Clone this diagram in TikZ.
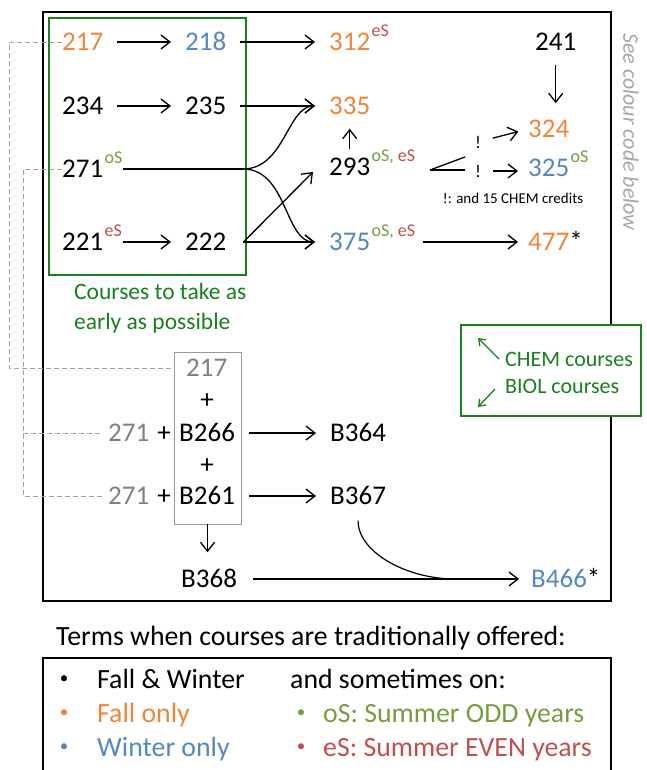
\documentclass[tikz,border=0pt]{standalone}
\usepackage{fontspec}
\setmainfont{Carlito}
\usetikzlibrary{arrows.meta}
\definecolor{corange}{RGB}{237,133,58}
\definecolor{cblue}{RGB}{84,135,195}
\definecolor{cgreen}{RGB}{118,156,64}
\definecolor{cred}{RGB}{192,80,77}
\definecolor{boxgreen}{RGB}{26,127,31}
\tikzset{
    crs/.style={anchor=west, inner sep=0pt, text height=17pt, text depth=0pt, font=\fontsize{27}{27}\selectfont},
    crsup/.style={anchor=base west, inner sep=0pt, font=\fontsize{18}{18}\selectfont},
    arr/.style={-{Straight Barb[length=9pt,width=14pt]}, line width=1.3pt, shorten <=14pt, shorten >=14pt},
    dashline/.style={gray!70, dash pattern=on 5pt off 3pt, line width=0.9pt},
    leg/.style={anchor=west, inner sep=0pt, text height=17pt, text depth=0pt, font=\fontsize{27.8}{27.8}\selectfont},
    dot/.style={inner sep=0pt, font=\fontsize{17}{17}\selectfont},
}
\begin{document}
\begin{tikzpicture}[x=1pt,y=-1pt]
    \useasboundingbox (0,0) rectangle (646,770);
    \clip (0,0) rectangle (646,770);
    %% boxes
    \draw[line width=1.3pt] (43,12) rectangle (611,601);
    \draw[boxgreen, line width=2.6pt] (49,18) rectangle (246,275);
    \draw[boxgreen, line width=2.6pt, fill=white] (461,325) rectangle (641,416);
    %% first year courses
    \node[crs, text=corange] (n217) at (62,42) {217};
    \node[crs, text=cblue] (n218) at (185,42) {218};
    \node[crs] (n234) at (62,106) {234};
    \node[crs] (n235) at (185,106) {235};
    \node[crs] (n271) at (62,169) {271};
    \node[crsup, text=cgreen] (s271) at ([xshift=1pt,yshift=-3pt]n271.north east) {oS};
    \node[crs] (n221) at (62,242) {221};
    \node[crsup, text=cred] (s221) at ([xshift=1pt,yshift=-3pt]n221.north east) {eS};
    \node[crs] (n222) at (185,242) {222};
    \node[anchor=west, align=left, inner sep=0pt, text=boxgreen, font=\fontsize{23.5}{30}\selectfont] (early) at (74,308) {Courses to take as\\early as possible};
    %% upper courses
    \node[crs, text=corange] (n312) at (329,42) {312};
    \node[crsup, text=cred] (s312) at ([xshift=1pt,yshift=-3pt]n312.north east) {eS};
    \node[crs, text=corange] (n335) at (329,106) {335};
    \node[crs] (n293) at (329,167) {293};
    \node[crsup] (s293) at ([xshift=1pt,yshift=-3pt]n293.north east) {\textcolor{cgreen}{oS,} \textcolor{cred}{eS}};
    \node[crs, text=cblue] (n375) at (329,242) {375};
    \node[crsup] (s375) at ([xshift=1pt,yshift=-3pt]n375.north east) {\textcolor{cgreen}{oS,} \textcolor{cred}{eS}};
    \node[crs] (n241) at (535,42) {241};
    \node[crs, text=corange] (n324) at (528,129) {324};
    \node[crs, text=cblue] (n325) at (528,168) {325};
    \node[crsup, text=cgreen] (s325) at ([xshift=1pt,yshift=-3pt]n325.north east) {oS};
    \node[crs, text=corange] (n477) at (528,242) {477\textcolor{black}{*}};
    \node[inner sep=0pt, font=\fontsize{18}{18}\selectfont] (bang1) at (478,142) {!};
    \node[inner sep=0pt, font=\fontsize{18}{18}\selectfont] (bang2) at (478,171) {!};
    \node[inner sep=0pt, font=\fontsize{15}{15}\selectfont] (note) at (513,198) {!: and 15 CHEM credits};
    \node[rotate=-90, inner sep=0pt, text=gray!70, font=\itshape\fontsize{22}{22}\selectfont] (seecode) at (631,132) {See colour code below};
    %% arrows, top part
    \coordinate (split) at (243,169);
    \coordinate (fork) at (430,170);
    \coordinate (from222) at ([xshift=17pt]n222.east);
    \draw[arr] (n217) -- (n218);
    \draw[arr] (n218) -- (n312);
    \draw[arr] (n234) -- (n235);
    \draw[arr] (n235) -- (n335);
    \draw[arr, shorten <=1pt] (s221.east |- n221.center) -- (n222);
    \draw[line width=1.3pt] (s271.east |- n271.center) -- (split);
    \draw[arr, shorten <=0pt] (split) to[out=0,in=180] (n335.west);
    \draw[arr, shorten <=0pt] (split) to[out=0,in=180] (n375.west);
    \draw[arr, shorten <=0pt] (from222) -- (n375.west);
    \draw[arr, shorten <=0pt, shorten >=0pt] (from222) -- ([xshift=-16pt,yshift=-5pt]n293.west);
    \draw[arr, shorten <=9pt] (n293.north) -- (n335.south);
    \draw[arr, shorten <=14pt, shorten >=17pt] (n241.south) -- (n241.south |- n324.north);
    \draw[line width=1.3pt] (fork) -- ++(35pt,13pt);
    \draw[line width=1.3pt] (fork) -- ++(35pt,0pt);
    \draw[arr, shorten <=12pt, shorten >=10pt] (bang1) -- (n324.west);
    \draw[arr, shorten <=12pt, shorten >=10pt] (bang2.east) -- (n325.west |- bang2.east);
    \draw[arr, shorten <=8pt, shorten >=10pt] (s375.east |- n375.center) -- (n477.west);
    %% BIOL courses
    \node[crs, text=gray] (g217) at (186,368) {217};
    \node[crs, anchor=center] (p1) at (207,400) {+};
    \node[crs] (b266) at (179,433) {B266};
    \node[crs, anchor=center] (p2) at (207,465) {+};
    \node[crs] (b261) at (179,496) {B261};
    \node[crs, text=gray] (h271a) at (108,433) {271};
    \node[crs, anchor=center] (p3) at (164,433) {+};
    \node[crs, text=gray] (h271b) at (108,496) {271};
    \node[crs, anchor=center] (p4) at (164,496) {+};
    \node[draw=gray!80, line width=0.9pt, minimum width=67pt, minimum height=172pt, inner sep=0pt] (bbox) at (207.5,438) {};
    \node[crs] (b364) at (330,433) {B364};
    \node[crs] (b367) at (330,496) {B367};
    \node[crs] (b368) at (181,579) {B368};
    \node[crs, text=cblue] (b466) at (531,579) {B466\textcolor{black}{*}};
    \coordinate (join) at (455,579);
    \draw[arr] (b266) -- (b364);
    \draw[arr] (b261) -- (b367);
    \draw[arr, shorten <=0pt, shorten >=18pt] (bbox.south) -- (bbox.south |- b368.north);
    \draw[arr, shorten <=16pt, shorten >=12pt] (b368) -- (b466);
    \draw[line width=1.2pt, shorten <=16pt] (b367.south) to[out=-90,in=180] (join);
    %% dashed links
    \coordinate (d1) at (9,42);
    \coordinate (d2) at (23,169);
    \draw[dashline] (n217.west) -- (d1) |- (bbox.west |- g217.west);
    \draw[dashline, shorten >=6pt] (n271.west) -- (d2) |- (h271b.west);
    \draw[dashline, shorten >=6pt] (d2 |- h271a.west) -- (h271a.west);
    %% CHEM / BIOL key
    \node[anchor=west, inner sep=0pt, text=boxgreen, font=\fontsize{22}{22}\selectfont] (chem) at (505,359) {CHEM courses};
    \node[anchor=west, inner sep=0pt, text=boxgreen, font=\fontsize{22}{22}\selectfont] (biol) at (505,386) {BIOL courses};
    \coordinate (chemtip) at (478,338);
    \coordinate (bioltip) at (478,407);
    \draw[-{Straight Barb[length=6pt,width=9pt]}, boxgreen, line width=1.3pt] ([xshift=-6pt]chem.west) -- (chemtip);
    \draw[-{Straight Barb[length=6pt,width=9pt]}, boxgreen, line width=1.3pt] ([xshift=-10pt,yshift=-3pt]biol.west) -- (bioltip);
    %% colour code
    \node[leg] (terms) at (56,637) {Terms when courses are traditionally offered:};
    \draw[line width=1.1pt] (43,658) rectangle (611,790);
    \node[dot] (dot1) at (64,680) {•};
    \node[leg] (fw) at (97,680) {Fall \& Winter};
    \node[dot, text=corange] (dot2) at (64,714) {•};
    \node[leg, text=corange] (fall) at (97,714) {Fall only};
    \node[dot, text=cblue] (dot3) at (64,748) {•};
    \node[leg, text=cblue] (winter) at (97,748) {Winter only};
    \node[leg] (sometimes) at (290,680) {and sometimes on:};
    \node[dot, text=cgreen] (dot4) at (301,714) {•};
    \node[leg, text=cgreen] (odd) at (323,714) {oS: Summer ODD years};
    \node[dot, text=cred] (dot5) at (301,748) {•};
    \node[leg, text=cred] (even) at (323,748) {eS: Summer EVEN years};
\end{tikzpicture}
\end{document}
